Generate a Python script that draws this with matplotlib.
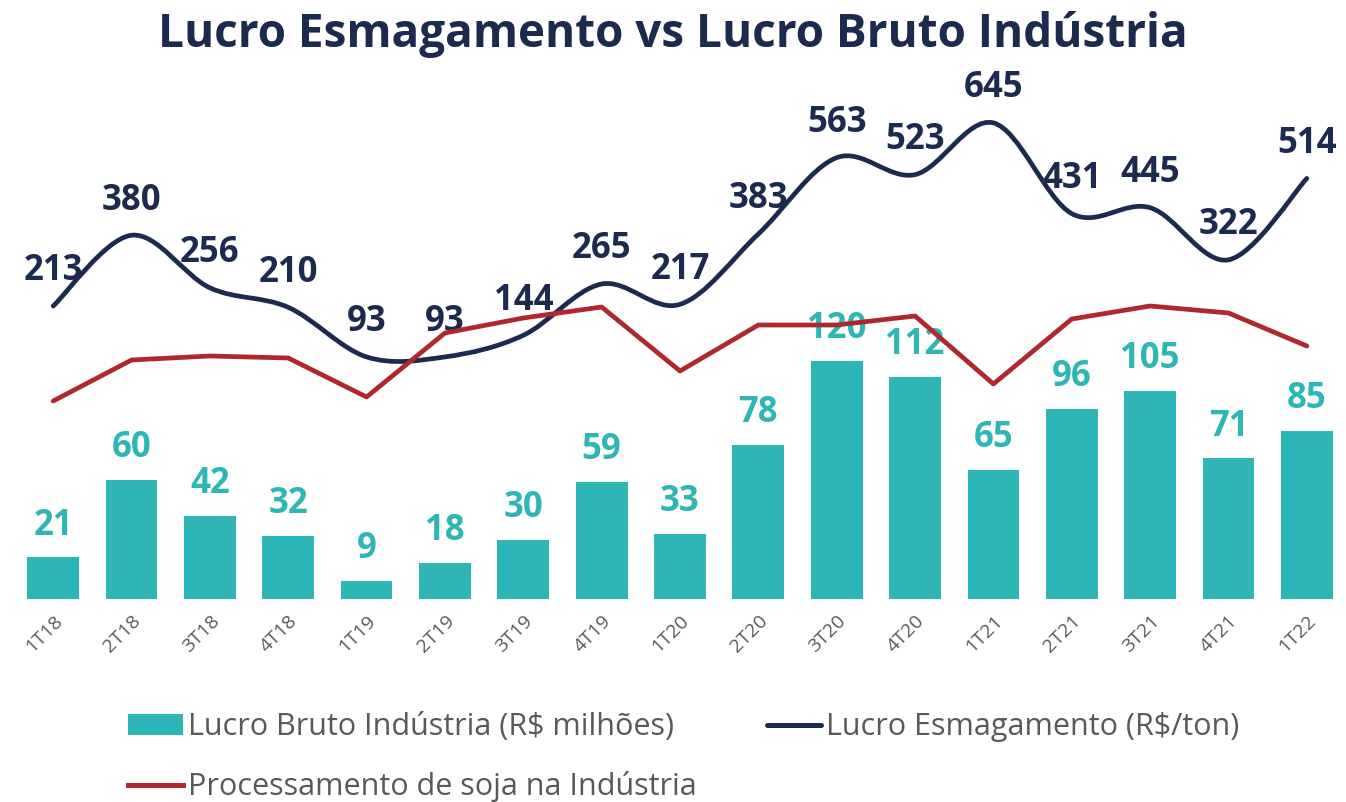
import matplotlib
matplotlib.use("Agg")
import matplotlib.pyplot as plt
from matplotlib.path import Path
from matplotlib.patches import PathPatch, Patch
from matplotlib.lines import Line2D
import numpy as np

# ---- data ----
categories = ["1T18", "2T18", "3T18", "4T18", "1T19", "2T19", "3T19", "4T19", "1T20",
              "2T20", "3T20", "4T20", "1T21", "2T21", "3T21", "4T21", "1T22"]
lucro_bruto = [21, 60, 42, 32, 9, 18, 30, 59, 33, 78, 120, 112, 65, 96, 105, 71, 85]
lucro_esmagamento = [213, 380, 256, 210, 93, 93, 144, 265, 217, 383, 563, 523, 645, 431, 445, 322, 514]
processamento = [1.98, 2.39, 2.43, 2.41, 2.02, 2.66, 2.81, 2.92, 2.28, 2.74, 2.74, 2.83,
                 2.15, 2.80, 2.93, 2.86, 2.53]

TEAL = "#2EB5B5"
NAVY = "#1B2A4E"
RED = "#B0272D"
GREY = "#595959"
FONT = ["Open Sans", "DejaVu Sans"]
plt.rcParams["font.family"] = FONT

W, H = 1346, 802
fig = plt.figure(figsize=(W / 100, H / 100), dpi=100)
left_px, right_px, bottom_px, top_px = 14, 1346, 599, 100
ax = fig.add_axes([left_px / W, 1 - bottom_px / H, (right_px - left_px) / W, (bottom_px - top_px) / H])
ax2 = ax.twinx()
ax3 = ax.twinx()

x = np.arange(len(categories))

# bars
ax.bar(x, lucro_bruto, width=0.66, color=TEAL, zorder=1)
ax.set_ylim(0, 252)
ax.set_xlim(-0.5, len(categories) - 0.5)
for xi, v in zip(x, lucro_bruto):
    ax.annotate(str(v), (xi, v), xytext=(0, 10), textcoords="offset points",
                ha="center", va="bottom", fontsize=25, fontweight="bold", color=TEAL)

# red line (straight segments)
ax3.plot(x, processamento, color=RED, lw=3.4, solid_capstyle="round", zorder=3)
ax3.set_ylim(0, 4.99)

# navy smoothed line drawn as cubic Bezier path through the data points
y = np.array(lucro_esmagamento, dtype=float)
xs = x.astype(float)
verts = [(xs[0], y[0])]
codes = [Path.MOVETO]
n = len(xs)
for i in range(n - 1):
    p0 = (xs[i - 1], y[i - 1]) if i > 0 else (xs[i], y[i])
    p1 = (xs[i], y[i])
    p2 = (xs[i + 1], y[i + 1])
    p3 = (xs[i + 2], y[i + 2]) if i + 2 < n else (xs[i + 1], y[i + 1])
    t = 1 / 6
    c1 = (p1[0] + (p2[0] - p0[0]) * t, p1[1] + (p2[1] - p0[1]) * t)
    c2 = (p2[0] - (p3[0] - p1[0]) * t, p2[1] - (p3[1] - p1[1]) * t)
    verts += [c1, c2, p2]
    codes += [Path.CURVE4] * 3
ax2.add_patch(PathPatch(Path(verts, codes), facecolor="none", edgecolor=NAVY, lw=3.4,
                        capstyle="round", zorder=4))
ax2.set_ylim(-478, 699)
for xi, v in zip(x, lucro_esmagamento):
    ax2.annotate(str(v), (xi, v), xytext=(0, 12), textcoords="offset points",
                 ha="center", va="bottom", fontsize=25, fontweight="bold", color=NAVY)

for a in (ax, ax2, ax3):
    for s in a.spines.values():
        s.set_visible(False)
    a.set_yticks([])
ax.set_xticks(x)
ax.set_xticklabels(categories, rotation=45, ha="right", rotation_mode="anchor",
                   fontsize=14, color=GREY)
ax.tick_params(axis="x", length=0, pad=9)
ax2.tick_params(axis="x", length=0)
ax3.tick_params(axis="x", length=0)

fig.text(0.5, 1 - 35 / H, "Lucro Esmagamento vs Lucro Bruto Indústria", ha="center", va="center",
         fontsize=33, fontweight="bold", color=NAVY)

handles = [Patch(facecolor=TEAL, edgecolor="none"),
           Line2D([], [], color=RED, lw=3.6),
           Line2D([], [], color=NAVY, lw=3.6, solid_capstyle="round")]
labels = ["Lucro Bruto Indústria (R$ milhões)", "Processamento de soja na Indústria",
          "Lucro Esmagamento (R$/ton)"]
leg = fig.legend(handles, labels, ncol=2, loc="upper left", bbox_to_anchor=(113 / W, 1 - 697 / H),
                 frameon=False, fontsize=22, handlelength=1.78, handletextpad=0.17,
                 columnspacing=2.3, labelspacing=0.95, borderpad=0)
for t in leg.get_texts():
    t.set_color(GREY)

fig.savefig("out.png", dpi=100)
